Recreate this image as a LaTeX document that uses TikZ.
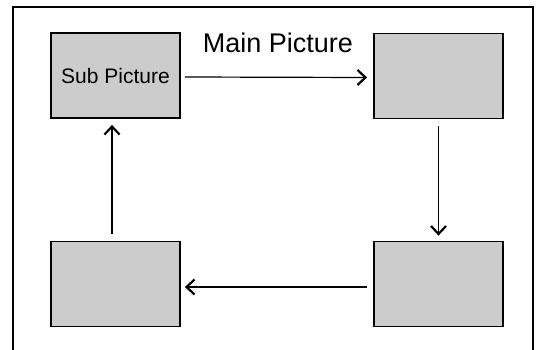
\documentclass[tikz,border=0pt]{standalone}
\usepackage{fontspec}
\setmainfont{Liberation Sans}
\usetikzlibrary{arrows.meta}

\begin{document}
\begin{tikzpicture}[x=1pt,y=-1pt,
  subbox/.style={draw,line width=1.8pt,fill=black!20,minimum width=129pt,minimum height=85pt,inner sep=0pt,font=\fontsize{21}{25}\selectfont},
  flow/.style={-{Straight Barb[length=8pt,width=15pt,line width=2.2pt]},line width=1.2pt}]
\path[use as bounding box] (0,0) rectangle (539,350);
% outer frame, open at the bottom
\draw[line width=1.8pt] (13,352) -- (13,7) -- (533,7) -- (533,352);
\node (title) at (278,43) {\fontsize{27}{32}\selectfont Main Picture};
\node[subbox] (subpic) at (115.5,75.5) {Sub Picture};
\node[subbox] (topright) at (438.5,76) {};
\node[subbox] (botleft) at (115.5,284) {};
\node[subbox] (botright) at (438.5,284) {};
\draw[flow] ([xshift=4pt,yshift=-1.5pt]subpic.east) -- ([xshift=-6pt,yshift=-1.5pt]topright.west);
\draw[flow] ([yshift=-7pt]topright.south) -- ([yshift=5pt]botright.north);
\draw[flow] ([xshift=-6pt,yshift=-3pt]botright.west) -- ([xshift=4pt,yshift=-3pt]botleft.east);
\draw[flow] ([xshift=-3.5pt,yshift=7pt]botleft.north) -- ([xshift=-3.5pt,yshift=-6pt]subpic.south);
\end{tikzpicture}
\end{document}
